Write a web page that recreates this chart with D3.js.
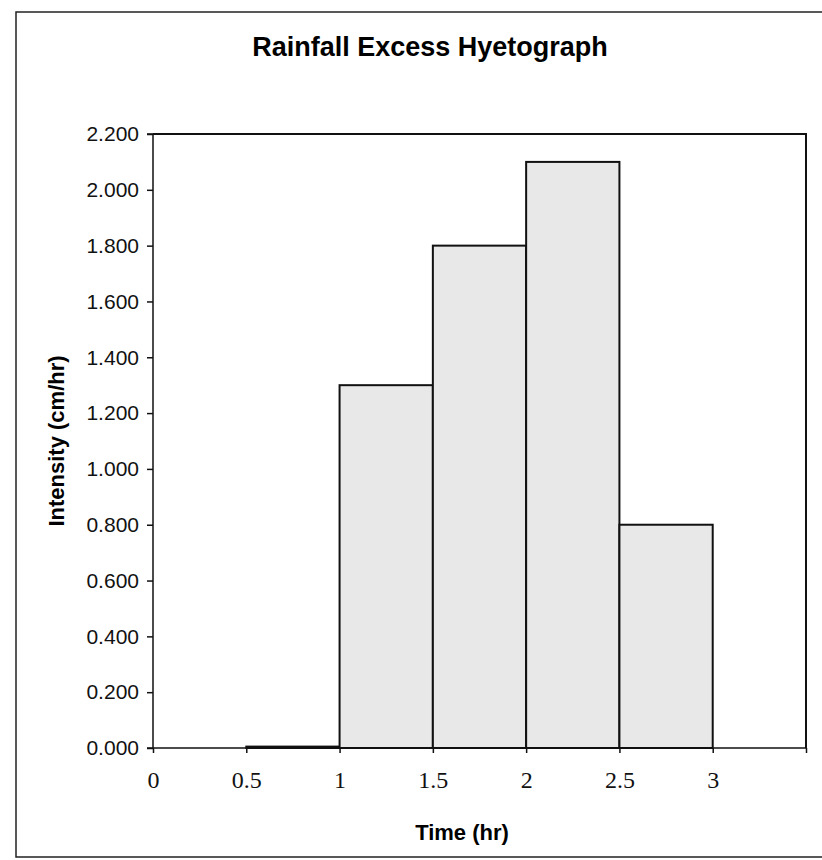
<!DOCTYPE html>
<html>
<head>
<meta charset="utf-8">
<script src="https://cdnjs.cloudflare.com/ajax/libs/d3/7.8.5/d3.min.js"></script>
<style>
  body { margin: 0; background: #fff; }
  .y.axis text { font-family: "Liberation Sans", Arial, sans-serif; font-size: 21px; fill: #111; }
  .x.axis text { font-family: "Liberation Serif", "Times New Roman", serif; font-size: 24px; fill: #111; }
  .axis path, .axis line { stroke: #111; stroke-width: 1.5; }
</style>
</head>
<body>
<script>
var binStart = [0, 0.5, 1, 1.5, 2, 2.5];
var binEnd   = [0.5, 1, 1.5, 2, 2.5, 3];
var intensity = [0, 0.005, 1.3, 1.8, 2.1, 0.8];
var xTicks = [0, 0.5, 1, 1.5, 2, 2.5, 3];
var yTicks = [0, 0.2, 0.4, 0.6, 0.8, 1.0, 1.2, 1.4, 1.6, 1.8, 2.0, 2.2];

var W = 822, H = 860;
var margin = {top: 134, right: 16, bottom: 112, left: 153},
    width = W - margin.left - margin.right,
    height = H - margin.top - margin.bottom;

var root = d3.select("body").append("svg")
  .attr("width", W).attr("height", H);

// scanned page frame
root.append("path")
  .attr("d", "M" + (W + 5) + ",12 L16,12 L16,857 L" + (W + 5) + ",857")
  .attr("fill", "none").attr("stroke", "#222").attr("stroke-width", 1.5);

root.append("text")
  .attr("x", 430).attr("y", 56)
  .attr("text-anchor", "middle")
  .style("font-family", "Liberation Sans, Arial, sans-serif")
  .style("font-weight", "bold").style("font-size", "27px")
  .text("Rainfall Excess Hyetograph");

var svg = root.append("g")
  .attr("transform", "translate(" + margin.left + "," + margin.top + ")");

var xScale = d3.scaleLinear().domain([0, 3.5]).range([0, width]);
var yScale = d3.scaleLinear().domain([0, 2.2]).range([height, 0]);

// plot box (top and right)
svg.append("path")
  .attr("d", "M0,0 H" + width + " V" + height)
  .attr("fill", "none").attr("stroke", "#111").attr("stroke-width", 2);

// bars
svg.selectAll("rect.bar")
  .data(intensity)
  .enter()
  .append("rect")
  .attr("class", "bar")
  .attr("x", function(d, i){ return xScale(binStart[i]); })
  .attr("width", function(d, i){ return xScale(binEnd[i]) - xScale(binStart[i]); })
  .attr("y", function(d){ return yScale(d); })
  .attr("height", function(d){ return height - yScale(d); })
  .attr("fill", function(d, i){ return i < 2 ? "#fff" : "#e8e8e8"; })
  .attr("stroke", "#111")
  .attr("stroke-width", 2);

var yAxis = d3.axisLeft(yScale)
  .tickValues(yTicks)
  .tickSize(6)
  .tickPadding(8)
  .tickFormat(d3.format(".3f"));

var xAxis = d3.axisBottom(xScale)
  .tickValues(xTicks.concat([3.5]))
  .tickSize(5)
  .tickPadding(18)
  .tickFormat(function(d){ return d === 3.5 ? "" : d; });

svg.append("g")
  .attr("class", "y axis")
  .call(yAxis)
  .call(function(g){ g.select(".domain").attr("d", "M-6,0 H0 V" + height); });

svg.append("g")
  .attr("class", "x axis")
  .attr("transform", "translate(0," + height + ")")
  .call(xAxis)
  .call(function(g){ g.select(".domain").attr("d", "M-6,0 H" + width); });

root.append("text")
  .attr("transform", "translate(64,441) rotate(-90)")
  .attr("text-anchor", "middle")
  .style("font-family", "Liberation Sans, Arial, sans-serif")
  .style("font-weight", "bold").style("font-size", "22px")
  .text("Intensity (cm/hr)");

root.append("text")
  .attr("x", 462).attr("y", 840)
  .attr("text-anchor", "middle")
  .style("font-family", "Liberation Sans, Arial, sans-serif")
  .style("font-weight", "bold").style("font-size", "22px")
  .text("Time (hr)");
</script>
</body>
</html>
